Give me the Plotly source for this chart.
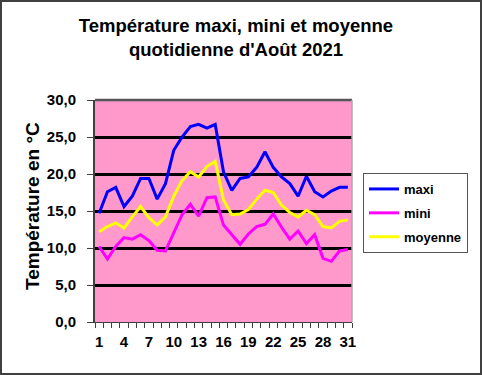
import plotly.graph_objects as go

days = list(range(1, 32))
maxi = [14.7, 17.6, 18.2, 15.6, 17.0, 19.4, 19.4, 16.6, 18.7, 23.2, 25.0, 26.4, 26.7, 26.2, 26.7,
        20.3, 17.8, 19.4, 19.6, 20.9, 23.0, 20.9, 19.6, 18.7, 17.0, 19.7, 17.6, 16.9, 17.7, 18.2, 18.2]
mini = [10.2, 8.5, 10.2, 11.4, 11.2, 11.8, 11.0, 9.7, 9.6, 12.0, 14.5, 15.9, 14.3, 16.8, 16.9,
        13.1, 11.8, 10.5, 11.9, 12.9, 13.2, 14.6, 12.8, 11.2, 12.3, 10.6, 11.8, 8.6, 8.2, 9.6, 9.8]
moyenne = [12.2, 12.9, 13.4, 12.7, 14.2, 15.6, 14.1, 13.1, 14.2, 17.0, 19.1, 20.3, 19.6, 21.0, 21.7,
           16.5, 14.5, 14.6, 15.2, 16.6, 17.8, 17.5, 15.8, 14.8, 14.2, 15.1, 14.5, 12.9, 12.7, 13.6, 13.8]
x_labels = list(range(1, 32, 3))
y_ticks = [0, 5, 10, 15, 20, 25, 30]

FONT = "Liberation Sans, Arial, sans-serif"

fig = go.Figure()
for name, vals, col in [("maxi", maxi, "#0000FF"), ("mini", mini, "#FF00FF"), ("moyenne", moyenne, "#FFFF00")]:
    fig.add_trace(go.Scatter(x=days, y=vals, mode="lines", name=name, legendgroup=name,
                             line=dict(color=col, width=3)))

W, H = 482, 375
L, R, T, B = 95, 130, 100, 53
pw, ph = W - L - R, H - T - B

def px_x(p):
    return (p - L) / pw

def px_y(p):
    return (H - B - p) / ph

fig.update_layout(
    width=W, height=H,
    margin=dict(l=L, r=R, t=T, b=B, pad=0, autoexpand=False),
    paper_bgcolor="white",
    plot_bgcolor="#FF99CC",
    separators=", ",
    font=dict(family=FONT, color="black"),
    title=dict(text="<b>Température maxi, mini et moyenne<br>quotidienne d'Août 2021</b>",
               x=236 / W, xanchor="center", y=1 - 32 / H, yanchor="middle",
               font=dict(size=18.5, family=FONT, color="black")),
    xaxis=dict(range=[0.5, 31.5], tickmode="array", tickvals=x_labels,
               ticktext=[str(v) for v in x_labels], ticks="", showgrid=False,
               zeroline=False, showline=True, linecolor="#404040", linewidth=1,
               tickfont=dict(size=15, family=FONT, color="black", weight="bold"),
               ticklabelstandoff=6,
               minor=dict(tick0=0.5, dtick=1, ticks="outside", ticklen=5,
                          tickcolor="#404040", tickwidth=1, showgrid=False),
               fixedrange=True),
    yaxis=dict(range=[0, 30], tickmode="array", tickvals=y_ticks, tickformat=".1f",
               ticks="outside", ticklen=6, tickcolor="#404040",
               showgrid=True, gridcolor="black", gridwidth=2.5,
               zeroline=False, showline=True, linecolor="#404040", linewidth=2,
               tickfont=dict(size=15, family=FONT, color="black", weight="bold"),
               ticklabelstandoff=8,
               fixedrange=True),
    legend=dict(x=px_x(363), y=px_y(173), xanchor="left", yanchor="top",
                bgcolor="white", bordercolor="#555555", borderwidth=1,
                font=dict(size=13, family=FONT, color="black", weight="bold"),
                itemwidth=30, tracegroupgap=4, traceorder="grouped"),
    showlegend=True,
)

# y-axis title as annotation
fig.add_annotation(text="<b>Température en °C</b>", textangle=-90,
                   xref="paper", yref="paper", x=px_x(32), y=px_y(206),
                   xanchor="center", yanchor="middle", showarrow=False,
                   font=dict(size=19, family=FONT, color="black"))

# plot area borders
fig.add_shape(type="line", xref="paper", yref="paper", x0=0, x1=1, y0=1, y1=1,
              line=dict(color="#555555", width=2.5))
fig.add_shape(type="line", xref="paper", yref="paper", x0=1, x1=1, y0=0, y1=1,
              line=dict(color="#AAAAAA", width=1.5))
# outer frame
fig.add_shape(type="rect", xref="paper", yref="paper",
              x0=px_x(1), x1=px_x(481), y0=px_y(374), y1=px_y(1),
              line=dict(color="#404040", width=2))

fig.write_html("out.html", config={"displayModeBar": False},
               post_script="document.body.style.margin='0';document.body.style.padding='0';")
